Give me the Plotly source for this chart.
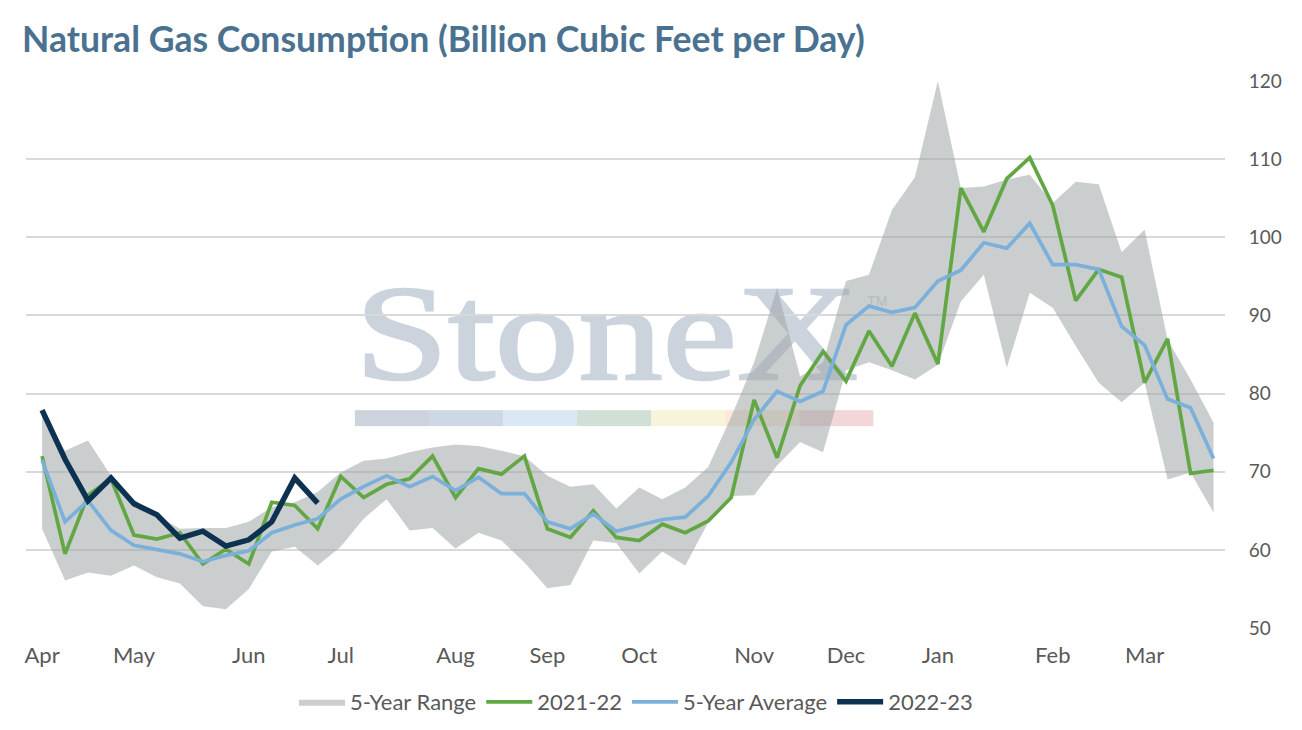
import base64
import plotly.graph_objects as go

# week index 0..51, starting first week of April
weeks = list(range(52))

month_ticks = [0, 4, 9, 13, 18, 22, 26, 31, 35, 39, 44, 48]
month_labels = ["Apr", "May", "Jun", "Jul", "Aug", "Sep", "Oct", "Nov", "Dec", "Jan", "Feb", "Mar"]

range_low = [62.7, 56.1, 57.1, 56.7, 58.0, 56.5, 55.7, 52.8, 52.4, 55.0,
             59.8, 60.4, 58.0, 60.4, 64.0, 66.5, 62.5, 62.8, 60.2, 62.2,
             61.2, 58.4, 55.1, 55.5, 61.2, 60.9, 57.0, 59.8, 58.0, 63.5,
             66.9, 67.0, 70.8, 73.8, 72.5, 83.0, 84.0, 83.0, 81.8, 83.7,
             91.8, 95.2, 83.3, 92.9, 91.0, 86.1, 81.4, 78.9, 81.4, 69.0,
             69.9, 64.8]

range_high = [77.6, 72.7, 74.0, 69.5, 66.5, 64.4, 62.7, 62.8, 62.8, 63.6,
              65.5, 66.1, 67.4, 69.9, 71.4, 71.7, 72.5, 73.1, 73.5, 73.3,
              72.7, 72.0, 69.5, 68.1, 68.4, 65.3, 68.0, 66.5, 68.0, 70.6,
              77.0, 84.0, 93.5, 82.2, 84.0, 94.4, 95.2, 103.5, 107.7, 120.0,
              106.3, 106.5, 107.4, 108.0, 104.4, 107.1, 106.8, 98.1, 101.0, 86.9,
              81.8, 76.3]

season_2021_22 = [72.0, 59.5, 67.0, 69.1, 61.9, 61.4, 62.2, 58.2, 60.1, 58.2,
                  66.1, 65.7, 62.7, 69.4, 66.7, 68.4, 69.1, 72.0, 66.7, 70.4,
                  69.7, 72.0, 62.7, 61.6, 65.0, 61.6, 61.2, 63.3, 62.2, 63.7,
                  66.7, 79.2, 71.8, 81.0, 85.4, 81.6, 88.0, 83.5, 90.3, 83.8,
                  106.3, 100.7, 107.5, 110.2, 104.1, 91.9, 95.9, 94.9, 81.4, 87.0,
                  69.8, 70.2]

five_year_avg = [71.5, 63.6, 66.3, 62.5, 60.6, 60.1, 59.5, 58.5, 59.3, 59.9,
                 62.2, 63.2, 64.0, 66.5, 68.1, 69.5, 68.1, 69.4, 67.6, 69.3,
                 67.2, 67.2, 63.6, 62.7, 64.6, 62.4, 63.2, 63.9, 64.2, 66.9,
                 71.2, 76.7, 80.3, 79.0, 80.3, 88.8, 91.2, 90.4, 91.0, 94.4,
                 95.8, 99.3, 98.6, 101.8, 96.5, 96.5, 95.9, 88.6, 86.2, 79.3,
                 78.2, 71.7]

season_2022_23 = [77.9, 71.6, 66.3, 69.2, 65.9, 64.5, 61.5, 62.4, 60.5, 61.3,
                  63.6, 69.2, 66.0]

text_grey = "#595959"
font_name = "Lato"

# page body has an 8px margin, so the figure is sized to fit inside it
W, H = 1286, 714
plot_l, plot_r, plot_t, plot_b = 18, 1221, 73, 621.5

# StoneX watermark drawn as a small svg behind the traces
bar_colors = ["#ccd3dc", "#cdd8e4", "#dae8f3", "#d0e0d6", "#f8f3db", "#f9ead8", "#f2d6d8"]
bars = "".join(
    '<rect x="{:.1f}" y="131" width="74.4" height="16" fill="{}"/>'.format(6 + 74.3 * i, c)
    for i, c in enumerate(bar_colors)
)
svg = (
    '<svg xmlns="http://www.w3.org/2000/svg" width="560" height="150" viewBox="0 0 560 150">'
    '<text x="6" y="100" font-family="Liberation Serif" font-size="136" '
    'fill="#cbd3dd" stroke="#cbd3dd" stroke-width="2.5" '
    'textLength="505" lengthAdjust="spacingAndGlyphs">StoneX</text>'
    '<text x="520" y="27" font-family="Liberation Sans" font-size="14" fill="#cbd3dd">TM</text>'
    + bars + '</svg>'
)
logo = "data:image/svg+xml;base64," + base64.b64encode(svg.encode()).decode()

fig = go.Figure()

fig.add_trace(go.Scatter(
    x=weeks, y=range_low, mode="lines", line=dict(width=0, color="#cbcecf"),
    showlegend=False, hoverinfo="skip"
))
# semi-transparent grey that reads as #cbcecf on white, lets the watermark show through
fig.add_trace(go.Scatter(
    x=weeks, y=range_high, mode="lines", line=dict(width=0, color="#cbcecf"),
    fill="tonexty", fillcolor="rgba(160,166,168,0.55)", name="5-Year Range"
))
fig.add_trace(go.Scatter(
    x=weeks, y=season_2021_22, mode="lines", line=dict(width=3.7, color="#62a744"),
    name="2021-22"
))
fig.add_trace(go.Scatter(
    x=weeks, y=five_year_avg, mode="lines", line=dict(width=3.7, color="#7bb0da"),
    name="5-Year Average"
))
fig.add_trace(go.Scatter(
    x=weeks[:len(season_2022_23)], y=season_2022_23, mode="lines",
    line=dict(width=5.5, color="#0d3251"), name="2022-23"
))

plot_w = plot_r - plot_l
plot_h = plot_b - plot_t

fig.update_layout(
    width=W, height=H,
    margin=dict(l=plot_l, r=W - plot_r, t=plot_t, b=H - plot_b),
    paper_bgcolor="white",
    plot_bgcolor="rgba(0,0,0,0)",
    font=dict(family=font_name, size=20, color=text_grey),
    title=dict(
        text="Natural Gas Consumption (Billion Cubic Feet per Day)",
        x=14 / W, xanchor="left", xref="container",
        y=1 - 32 / H, yanchor="middle", yref="container",
        font=dict(family=font_name, size=35.6, color="#4a7290", weight=700)
    ),
    xaxis=dict(
        range=[-0.7, 51.5], tickvals=month_ticks, ticktext=month_labels,
        showgrid=False, zeroline=False, showline=False,
        ticks="outside", ticklen=8, tickcolor="rgba(0,0,0,0)",
        tickfont=dict(size=22, color=text_grey)
    ),
    yaxis=dict(
        side="right", range=[50, 120], dtick=10,
        showgrid=True, gridcolor="#d9d9d9", gridwidth=1.5,
        zeroline=False, showline=False,
        ticks="outside", ticklen=19, tickcolor="rgba(0,0,0,0)",
        tickfont=dict(size=19, color=text_grey)
    ),
    legend=dict(
        orientation="h", traceorder="normal",
        x=(638 - 8 - plot_l) / plot_w, xanchor="center",
        yref="container", y=1 - 694 / H, yanchor="middle",
        font=dict(size=22, color=text_grey), itemwidth=46
    ),
    images=[dict(
        source=logo, xref="paper", yref="paper",
        x=(342 - plot_l) / plot_w, y=(plot_b - 272) / plot_h,
        sizex=560 / plot_w, sizey=150 / plot_h, sizing="stretch",
        xanchor="left", yanchor="top", layer="below"
    )],
)

fig.write_html("out.html")
